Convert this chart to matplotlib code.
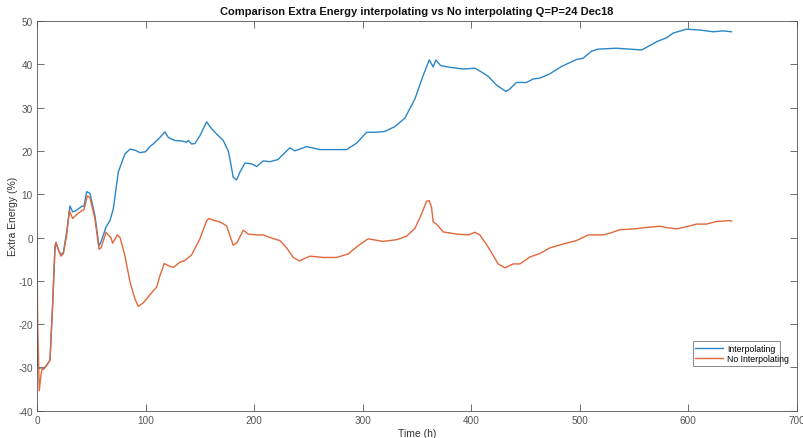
import matplotlib
matplotlib.use('Agg')
import matplotlib.pyplot as plt

# extra energy with interpolation (%)
t_interp = [0, 0.5, 2, 4, 6, 9, 12, 14.5, 16.5, 17.5, 20, 22.1, 24.3, 27.3, 30.4, 32.9, 36,
            41.2, 43.3, 45.8, 48.8, 53.4, 57.1, 59, 63.6, 67.2, 70.3, 74.9, 81, 85.7, 90,
            94.9, 100, 104, 107.1, 113.3, 117.9, 121, 127, 133, 137.9, 139.5, 142.5, 145.5,
            150.1, 156.3, 160.9, 165.5, 171.6, 176.2, 177.8, 180.8, 183.9, 187, 191.6, 197.8,
            202.4, 208.5, 214.6, 222, 228, 233, 237.6, 242, 248.4, 260.7, 285.3, 294.5, 303.7,
            312.9, 320.5, 329.7, 339, 348.2, 355.8, 361.4, 365, 367.5, 371.8, 380.4, 392.7,
            403.4, 409.6, 415.7, 423.4, 432, 435.6, 441.8, 451, 457.1, 463.3, 472.5, 483.3,
            497.1, 503.2, 510.9, 517, 533.9, 546.2, 556.9, 561.6, 570.8, 580, 586.1, 598.4,
            610.7, 623, 632.2, 639.9]
e_interp = [0, -30, -30.2, -30, -30.4, -29.5, -28.3, -15, -3, -1.1, -3, -4.0, -3.4, 1.2, 7.3,
            5.9, 6.2, 7.2, 7.2, 10.6, 10.2, 5.0, -1.9, -1.0, 2.4, 3.9, 6.6, 15.1, 19.3, 20.4,
            20.2, 19.6, 19.8, 21, 21.6, 23.1, 24.4, 23.1, 22.4, 22.3, 22.0, 22.4, 21.6, 21.7,
            23.5, 26.7, 25.1, 23.9, 22.4, 20.0, 18.1, 13.9, 13.3, 15.1, 17.2, 17.0, 16.4, 17.7,
            17.5, 18, 19.5, 20.7, 20.0, 20.4, 21.0, 20.3, 20.3, 21.8, 24.3, 24.3, 24.5, 25.6,
            27.6, 32.0, 37.4, 41.0, 39.4, 41.0, 39.7, 39.3, 38.9, 39.1, 38.2, 37.2, 35.2, 33.7,
            34.3, 35.8, 35.8, 36.6, 36.8, 37.8, 39.5, 41.1, 41.4, 43.0, 43.5, 43.7, 43.5, 43.3,
            43.9, 45.2, 46.1, 47.2, 48.1, 47.9, 47.5, 47.7, 47.5]

# extra energy without interpolation (%)
t_nointerp = [0, 0.6, 2.1, 3.5, 4.9, 6, 8.9, 12, 14.5, 16.6, 17.5, 20, 22.1, 24.3, 27.3, 29.8,
              32.9, 36.5, 41.2, 43.3, 46.4, 48.8, 53.4, 57.1, 59, 63.6, 68.2, 69.7, 74, 76.5,
              81, 85.7, 90.3, 93.3, 97.9, 107.1, 110.2, 113.3, 117.3, 121, 125.6, 131.7, 136.3,
              142.5, 150.1, 156.3, 158.5, 162.4, 168.6, 174.7, 177.8, 180.8, 184.5, 190, 194.6,
              202.4, 208.5, 214.6, 223.8, 230, 236.1, 241.6, 251.4, 263.7, 276, 286.7, 295.9,
              305.1, 318.9, 331.3, 340.5, 348.2, 354.3, 358.9, 361.4, 363.5, 365, 368.1, 374.2,
              386.6, 397.3, 403.4, 408, 415.7, 424.9, 431.1, 438.7, 444.9, 454.1, 463.3, 472.5,
              484.8, 497.1, 507.8, 521.6, 527.8, 537, 550.8, 560, 573.8, 580, 589.2, 598.4,
              607.6, 616.8, 626, 638.3, 639.9]
e_nointerp = [0, -20, -35.4, -32, -30, -30.4, -29.5, -28.3, -15, -1.8, -1.2, -3, -4.3, -3.7, 0.4,
              6.2, 4.4, 5.3, 6.2, 6.4, 9.6, 9.2, 4.3, -2.7, -2.4, 1.2, -0.1, -1.3, 0.6, 0, -4.2,
              -10.3, -14.2, -15.9, -15.1, -12.3, -11.5, -8.8, -6.0, -6.5, -6.9, -5.7, -5.3, -4.0,
              -0.3, 3.9, 4.4, 4.0, 3.6, 2.7, 0.4, -1.8, -1.1, 1.7, 0.8, 0.6, 0.6, 0.0, -0.7, -2.4,
              -4.6, -5.4, -4.3, -4.6, -4.6, -3.8, -1.9, -0.3, -0.9, -0.5, 0.3, 2.1, 5.4, 8.4, 8.5,
              7.0, 3.6, 3.1, 1.3, 0.8, 0.6, 1.2, 0.6, -2.2, -6.1, -7.0, -6.1, -6.1, -4.5, -3.7,
              -2.4, -1.5, -0.7, 0.6, 0.6, 1.0, 1.8, 2.0, 2.3, 2.6, 2.3, 2.0, 2.5, 3.1, 3.1, 3.7,
              3.9, 3.8]

plt.rcParams['font.family'] = ['Liberation Sans', 'DejaVu Sans']
plt.rcParams['axes.unicode_minus'] = False
axcol = '#555555'

fig = plt.figure(figsize=(8.04, 4.39), dpi=100)
ax = fig.add_axes([0.046, 0.062, 0.945, 0.888])

ax.plot(t_interp, e_interp, color='#2a86c8', lw=1.0, label='Interpolating')
ax.plot(t_nointerp, e_nointerp, color='#e0683a', lw=1.0, label='No Interpolating')

ax.set_xlim(0, 700)
ax.set_ylim(-40, 50)
ax.set_xticks(range(0, 701, 100))
ax.set_yticks(range(-40, 51, 10))
ax.tick_params(direction='in', top=True, right=True, length=5, width=0.6,
               labelsize=7.2, colors=axcol, pad=3)
for s in ax.spines.values():
    s.set_color(axcol)
    s.set_linewidth(0.6)

ax.set_xlabel('Time (h)', fontsize=7.5, color='#333333', labelpad=2)
ax.set_ylabel('Extra Energy (%)', fontsize=7.5, color='#333333', va='center')
ax.yaxis.set_label_coords(-0.032, 0.5)
ax.set_title('Comparison Extra Energy interpolating vs No interpolating Q=P=24 Dec18',
             fontsize=8, fontweight='bold', color='#111111', pad=5)

leg = ax.legend(loc='lower left', bbox_to_anchor=(0.863, 0.115, 0.115, 0.054), mode='expand',
                fontsize=6.3, frameon=True, fancybox=False, borderpad=0.3, handlelength=3.2,
                handletextpad=0.4, labelspacing=0.15, borderaxespad=0)
leg.get_frame().set_edgecolor(axcol)
leg.get_frame().set_linewidth(0.6)

fig.savefig('out.png', dpi=100)
